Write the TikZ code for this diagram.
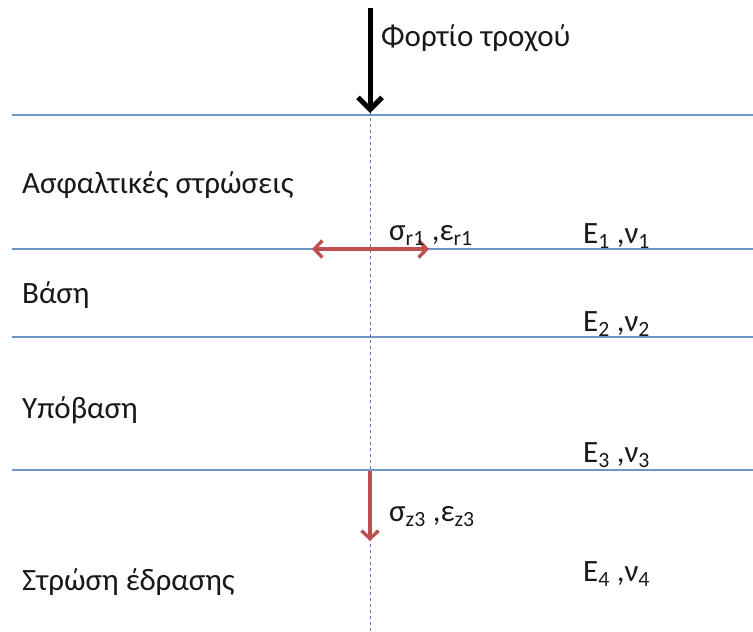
\documentclass[tikz,border=0pt]{standalone}
\usepackage{fontspec}
\setmainfont{Carlito}
\usetikzlibrary{arrows.meta,positioning}
\definecolor{layerblue}{RGB}{110,150,200}
\definecolor{axisblue}{RGB}{79,129,189}
\definecolor{stressred}{RGB}{192,80,77}
\definecolor{textgray}{RGB}{25,25,25}
\tikzset{
  interface/.style={draw=layerblue, line width=1.1pt},
  axisline/.style ={draw=axisblue, line width=0.7pt, dash pattern=on 3pt off 3pt},
  loadarrow/.style={-{Straight Barb[length=12pt,width=24pt]}, line width=5pt, draw=black},
  strain/.style   ={-{Straight Barb[length=8pt,width=17pt]}, line width=3.4pt, draw=stressred},
  strainboth/.style={{Straight Barb[length=8pt,width=17pt]}-{Straight Barb[length=8pt,width=17pt]},
                    line width=3.4pt, draw=stressred},
  layername/.style={anchor=west, inner sep=0pt, font=\fontsize{31}{35}\selectfont, text=textgray},
  modulus/.style  ={anchor=base west, inner sep=0pt, font=\fontsize{31}{35}\selectfont, text=textgray}
}

\begin{document}
\begin{tikzpicture}[x=1pt, y=-1pt]
\useasboundingbox (0,0) rectangle (753,632);

% layer interfaces
\foreach \yy in {115,249,337,470}
  \draw[interface] (12,\yy) -- (753,\yy);
% axis under the wheel
\draw[axisline] (370,100) -- (370,632);

\coordinate (wheeltop) at (370,8);
\coordinate (surface) at (370,113);
\draw[loadarrow] (wheeltop) -- (surface);
\node[layername] (load) at (381,38) {Φορτίο τροχού};

\node[layername] (asphalt) at (22,185) {Ασφαλτικές στρώσεις};
\node[layername] (base) at (22,295) {Βάση};
\node[layername] (subbase) at (22,410) {Υπόβαση};
\node[layername] (subgrade) at (22,582) {Στρώση έδρασης};

\node[modulus] (mod1) at (583,243) {E\textsubscript{1} ,ν\textsubscript{1}};
\node[modulus] (mod2) at (583,331) {E\textsubscript{2} ,ν\textsubscript{2}};
\node[modulus] (mod3) at (583,462) {E\textsubscript{3} ,ν\textsubscript{3}};
\node[modulus] (mod4) at (583,581) {E\textsubscript{4} ,ν\textsubscript{4}};

% critical strains
\coordinate (rleft) at (312,249);
\coordinate (rright) at (429,249);
\draw[strainboth] (rleft) -- (rright);
\node[modulus] (radial) at (389,240) {σ\textsubscript{r1} ,ε\textsubscript{r1}};

\coordinate (ztop) at (370,471);
\coordinate (zbot) at (370,541);
\draw[strain] (ztop) -- (zbot);
\node[modulus] (vertical) at (389,521) {σ\textsubscript{z3} ,ε\textsubscript{z3}};
\end{tikzpicture}
\end{document}
